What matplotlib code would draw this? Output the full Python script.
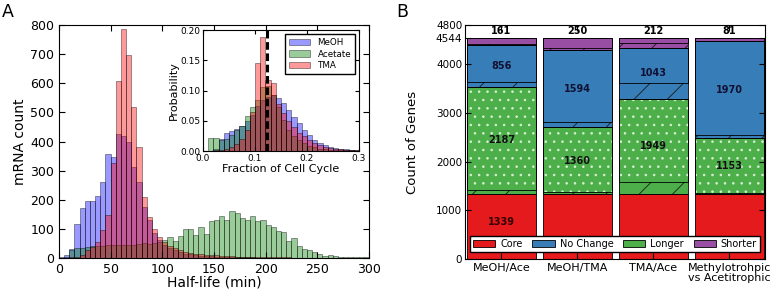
import numpy as np
import matplotlib
matplotlib.use("Agg")
import matplotlib.pyplot as plt
from matplotlib.patches import Patch

plt.rcParams['font.family'] = ['DejaVu Sans']
plt.rcParams['xtick.direction'] = 'in'
plt.rcParams['ytick.direction'] = 'in'
plt.rcParams['xtick.top'] = True
plt.rcParams['ytick.right'] = True
plt.rcParams['hatch.linewidth'] = 0.6

# ---------------- Panel A data ----------------
halflife_edges = np.arange(0, 305, 5)
meoh_counts = [3, 10, 32, 118, 173, 195, 197, 214, 260, 358,
               347, 425, 420, 400, 314, 262, 176, 131, 87, 63,
               45, 34, 26, 20, 15, 12, 10, 8, 7, 6,
               5, 4, 4, 3, 3, 2, 2, 2, 1, 1,
               1, 1, 1, 1, 1, 0, 0, 0, 0, 0,
               0, 0, 0, 0, 0, 0, 0, 0, 0, 0]
acetate_counts = [0, 2, 28, 33, 36, 38, 40, 40, 42, 44,
                  45, 45, 45, 46, 46, 47, 50, 48, 52, 55,
                  62, 71, 60, 75, 100, 100, 80, 108, 82, 128,
                  130, 143, 130, 163, 155, 138, 132, 145, 127, 130,
                  112, 108, 91, 90, 58, 70, 42, 32, 29, 20,
                  12, 8, 9, 8, 4, 2, 2, 2, 2, 2]
tma_counts = [0, 0, 2, 5, 10, 27, 39, 56, 96, 148,
              326, 608, 786, 698, 520, 380, 210, 142, 98, 73,
              55, 42, 33, 27, 22, 18, 15, 13, 11, 10,
              9, 8, 7, 6, 5, 5, 4, 4, 3, 3,
              3, 2, 2, 2, 2, 1, 1, 1, 1, 1,
              0, 0, 0, 0, 0, 0, 0, 0, 0, 0]

frac_edges = np.arange(0, 0.31, 0.01)
meoh_prob = [0, 0, 0.003, 0.020, 0.030, 0.033, 0.037, 0.042, 0.050, 0.060,
             0.075, 0.085, 0.090, 0.092, 0.088, 0.080, 0.068, 0.057, 0.046, 0.035,
             0.027, 0.019, 0.014, 0.010, 0.007, 0.005, 0.004, 0.003, 0.002, 0.001]
acetate_prob = [0, 0.022, 0.022, 0.018, 0.020, 0.026, 0.035, 0.042, 0.058, 0.072,
                0.085, 0.105, 0.107, 0.092, 0.072, 0.052, 0.035, 0.025, 0.018, 0.013,
                0.009, 0.006, 0.004, 0.003, 0.002, 0.002, 0.001, 0.001, 0.001, 0.0]
tma_prob = [0, 0, 0.001, 0.002, 0.004, 0.007, 0.012, 0.020, 0.035, 0.065,
            0.145, 0.188, 0.118, 0.112, 0.078, 0.062, 0.050, 0.040, 0.030, 0.024,
            0.018, 0.013, 0.010, 0.007, 0.005, 0.004, 0.003, 0.002, 0.001, 0.001]
median_fraction = 0.123

# ---------------- Panel B data ----------------
comparisons = ['MeOH/Ace', 'MeOH/TMA', 'TMA/Ace', 'Methylotrohpic\nvs Acetitrophic']
core = [1339, 1339, 1339, 1339]
longer = [2187, 1360, 1949, 1153]
nochange = [856, 1594, 1043, 1970]
shorter = [161, 250, 212, 81]
longer_hatched = [80, 40, 250, 15]
nochange_hatched = [95, 120, 320, 55]
shorter_hatched = [25, 30, 110, 10]
total_genes = 4544

fig = plt.figure(figsize=(7.7, 2.93), dpi=100)

# ---------------- Panel A ----------------
ax = fig.add_axes([0.0766, 0.1195, 0.4026, 0.795])
w = np.diff(halflife_edges)
series = [(meoh_counts, (0, 0, 1)), (acetate_counts, (0, 0.5, 0)), (tma_counts, (1, 0, 0))]
for vals, c in series:
    ax.bar(halflife_edges[:-1], vals, width=w, align='edge',
           facecolor=c + (0.4,), edgecolor=(0, 0, 0, 0.45), linewidth=0.6)
ax.set_xlim(0, 300)
ax.set_ylim(0, 800)
ax.set_xticks(np.arange(0, 301, 50))
ax.set_yticks(np.arange(0, 801, 100))
ax.tick_params(labelsize=9, length=4)
ax.set_xlabel('Half-life (min)', fontsize=10, labelpad=0)
ax.set_ylabel('mRNA count', fontsize=10, labelpad=2)

ins = fig.add_axes([0.2636, 0.4846, 0.2026, 0.413])
fw = np.diff(frac_edges)
labels_a = ['MeOH', 'Acetate', 'TMA']
for (vals, c), lab in zip([(meoh_prob, (0, 0, 1)), (acetate_prob, (0, 0.5, 0)), (tma_prob, (1, 0, 0))], labels_a):
    ins.bar(frac_edges[:-1], vals, width=fw, align='edge',
            facecolor=c + (0.4,), edgecolor=(0, 0, 0, 0.45), linewidth=0.6, label=lab)
ins.axvline(median_fraction, color='black', linestyle='--', linewidth=2.2, dashes=(2.5, 1.2))
ins.set_xlim(0, 0.3)
ins.set_ylim(0, 0.2)
ins.set_xticks([0.0, 0.1, 0.2, 0.3])
ins.set_yticks([0.0, 0.05, 0.10, 0.15, 0.20])
ins.set_xticklabels(['0.0', '0.1', '0.2', '0.3'])
ins.set_yticklabels(['0.00', '0.05', '0.10', '0.15', '0.20'])
ins.tick_params(labelsize=6.5, length=3, pad=2)
ins.set_xlabel('Fraction of Cell Cycle', fontsize=8, labelpad=1)
ins.set_ylabel('Probability', fontsize=8, labelpad=1)
ins.legend(loc='upper right', fontsize=6.3, fancybox=False, edgecolor='black',
           handlelength=2.5, borderpad=0.4, labelspacing=0.3, framealpha=1)

fig.text(0.003, 0.99, 'A', fontsize=12.5, va='top', ha='left')
fig.text(0.515, 0.99, 'B', fontsize=12.5, va='top', ha='left')

# ---------------- Panel B ----------------
bx = fig.add_axes([0.6039, 0.116, 0.3896, 0.7986])
x = np.arange(len(comparisons))
bw = 0.91
red, blue, green, purple = '#e41a1c', '#377eb8', '#4daf4a', '#984ea3'
core_a = np.array(core)
longer_a = np.array(longer)
noch_a = np.array(nochange)
short_a = np.array(shorter)

bx.bar(x, core_a, bw, color=red, edgecolor='black', linewidth=0.6)


def segment(bottom, total, hatched, color, dots=False):
    # hatched portion at the bottom of the segment
    bx.bar(x, hatched, bw, bottom=bottom, color=color, edgecolor='#1a1a1a',
           linewidth=0, hatch='/')
    solid_bottom = bottom + np.array(hatched)
    solid = total - np.array(hatched)
    if dots:
        bx.bar(x, solid, bw, bottom=solid_bottom, color=color, edgecolor='#d8efd4',
               linewidth=0, hatch='..')
    else:
        bx.bar(x, solid, bw, bottom=solid_bottom, color=color, linewidth=0)
    bx.bar(x, solid, bw, bottom=solid_bottom, fill=False, edgecolor='black', linewidth=0.6)
    bx.bar(x, total, bw, bottom=bottom, fill=False, edgecolor='black', linewidth=0.6)


b1 = core_a
segment(b1, longer_a, longer_hatched, green, dots=True)
b2 = b1 + longer_a
segment(b2, noch_a, nochange_hatched, blue)
b3 = b2 + noch_a
segment(b3, short_a, shorter_hatched, purple)

for i in range(len(x)):
    bx.text(x[i], b1[i] + longer_a[i] / 2, str(longer[i]), ha='center', va='center',
            fontsize=7, fontweight='bold', color='#111111')
    bx.text(x[i], b2[i] + noch_a[i] / 2, str(nochange[i]), ha='center', va='center',
            fontsize=7, fontweight='bold', color='#111133')
    bx.text(x[i], b3[i] + short_a[i] + 25, str(shorter[i]), ha='center', va='bottom',
            fontsize=7, fontweight='bold', color='black')
bx.text(x[0], core[0] / 2 + 100, str(core[0]), ha='center', va='center',
        fontsize=7, fontweight='bold', color='#330000')

bx.set_xlim(-0.48, 3.47)
bx.set_ylim(0, 4800)
bx.set_yticks([0, 1000, 2000, 3000, 4000, total_genes, 4800])
bx.set_xticks(x)
bx.set_xticklabels(comparisons, fontsize=8, linespacing=1.0)
bx.tick_params(axis='y', labelsize=7.5, length=4, pad=2)
bx.tick_params(axis='x', length=4, pad=3)
bx.set_ylabel('Count of Genes', fontsize=9.5, labelpad=12)

handles = [Patch(facecolor=red, edgecolor='black', linewidth=0.6, label='Core'),
           Patch(facecolor=blue, edgecolor='black', linewidth=0.6, label='No Change'),
           Patch(facecolor=green, edgecolor='black', linewidth=0.6, label='Longer'),
           Patch(facecolor=purple, edgecolor='black', linewidth=0.6, label='Shorter')]
bx.legend(handles=handles, loc='lower center', ncol=4, fontsize=7, fancybox=False,
          edgecolor='black', framealpha=1, handlelength=2.3, columnspacing=1.0,
          handletextpad=0.5, borderpad=0.3, bbox_to_anchor=(0.5, 0.01))

fig.savefig('out.png', dpi=100, facecolor='white')
